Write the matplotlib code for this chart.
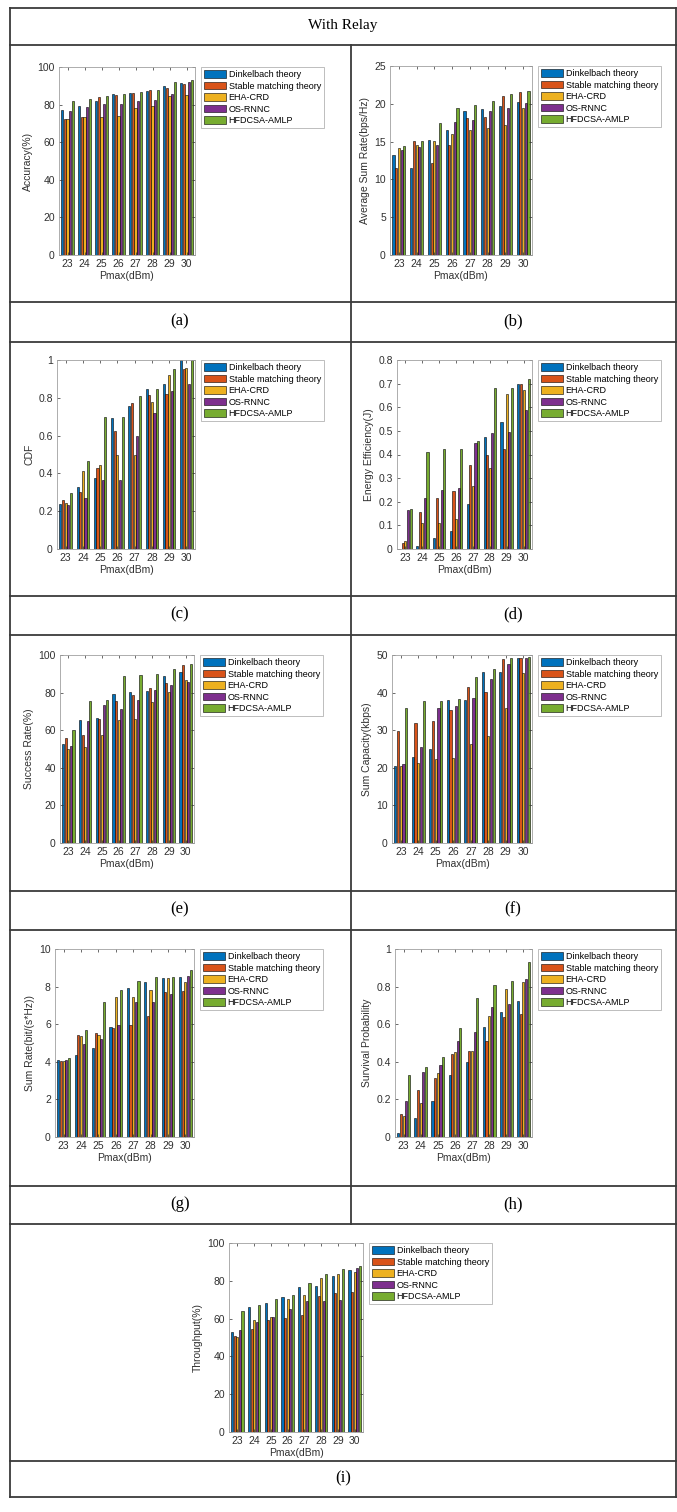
import matplotlib
matplotlib.use("Agg")
import matplotlib.pyplot as plt
from matplotlib.lines import Line2D
from matplotlib.ticker import FormatStrFormatter
import numpy as np

plt.rcParams['font.family'] = ['Liberation Sans', 'DejaVu Sans']

# data
pmax = [23, 24, 25, 26, 27, 28, 29, 30]
methods = ["Dinkelbach theory", "Stable matching theory", "EHA-CRD", "OS-RNNC", "HFDCSA-AMLP"]
colors = ["#0072BD", "#D95319", "#EDB120", "#7E2F8E", "#77AC30"]

accuracy = [
    [77.3, 79.1, 82.1, 85.5, 86.4, 87.1, 89.7, 91.5],
    [72.4, 73.6, 84.1, 85.3, 86.2, 87.6, 89.0, 91.2],
    [72.4, 73.6, 73.6, 74.0, 78.1, 79.5, 84.4, 85.0],
    [76.6, 78.9, 80.2, 80.4, 81.8, 82.5, 85.5, 91.9],
    [82.1, 83.0, 84.8, 85.8, 86.5, 88.0, 91.9, 92.9],
]
sum_rate_avg = [
    [13.2, 11.5, 15.2, 16.5, 19.0, 19.3, 19.7, 20.2],
    [11.5, 15.1, 12.2, 14.6, 18.1, 18.3, 21.0, 21.5],
    [14.2, 14.6, 15.1, 16.0, 16.5, 16.8, 17.2, 19.4],
    [13.9, 14.3, 14.5, 17.6, 17.9, 19.0, 19.5, 20.1],
    [14.4, 15.1, 17.5, 19.5, 19.8, 20.4, 21.3, 21.7],
]
cdf = [
    [0.24, 0.33, 0.375, 0.695, 0.755, 0.845, 0.875, 1.0],
    [0.26, 0.30, 0.428, 0.625, 0.77, 0.815, 0.82, 0.955],
    [0.245, 0.415, 0.445, 0.50, 0.50, 0.78, 0.92, 0.96],
    [0.232, 0.27, 0.365, 0.365, 0.60, 0.72, 0.835, 0.875],
    [0.295, 0.463, 0.697, 0.70, 0.807, 0.845, 0.95, 1.0],
]
energy_eff = [
    [0.0, 0.011, 0.048, 0.076, 0.19, 0.474, 0.538, 0.70],
    [0.026, 0.156, 0.215, 0.246, 0.354, 0.397, 0.422, 0.70],
    [0.035, 0.11, 0.11, 0.127, 0.266, 0.344, 0.655, 0.673],
    [0.167, 0.215, 0.25, 0.26, 0.45, 0.489, 0.496, 0.588],
    [0.171, 0.41, 0.425, 0.425, 0.457, 0.68, 0.68, 0.72],
]
success = [
    [52.9, 65.5, 66.5, 79.0, 80.5, 81.0, 88.8, 91.0],
    [56.1, 57.4, 66.0, 75.3, 78.5, 82.5, 85.2, 94.7],
    [50.2, 50.8, 57.5, 65.5, 66.0, 75.0, 80.5, 86.5],
    [51.6, 65.0, 73.3, 71.2, 76.2, 81.3, 84.3, 85.8],
    [60.0, 75.5, 76.3, 89.0, 89.5, 90.0, 92.3, 95.0],
]
capacity = [
    [20.5, 22.9, 24.9, 38.0, 38.0, 45.4, 45.4, 49.1],
    [29.7, 31.8, 32.5, 35.3, 41.6, 40.2, 49.0, 49.2],
    [20.5, 21.2, 22.3, 22.6, 26.3, 28.4, 35.8, 45.1],
    [20.9, 25.6, 35.8, 36.5, 38.6, 43.5, 47.5, 49.3],
    [35.8, 37.7, 37.8, 38.3, 44.2, 46.3, 49.1, 49.6],
]
sum_rate = [
    [4.12, 4.38, 4.75, 5.85, 7.92, 8.25, 8.48, 8.5],
    [4.04, 5.4, 5.55, 5.8, 5.95, 6.42, 7.72, 7.78],
    [4.06, 5.35, 5.4, 7.45, 7.45, 7.82, 8.48, 8.22],
    [4.08, 4.95, 5.2, 5.98, 7.2, 7.2, 7.6, 8.55],
    [4.2, 5.7, 7.2, 7.82, 8.3, 8.5, 8.5, 8.9],
]
survival = [
    [0.02, 0.10, 0.19, 0.33, 0.40, 0.585, 0.665, 0.725],
    [0.12, 0.25, 0.315, 0.44, 0.46, 0.51, 0.64, 0.655],
    [0.11, 0.18, 0.34, 0.45, 0.46, 0.645, 0.785, 0.825],
    [0.19, 0.345, 0.385, 0.51, 0.56, 0.69, 0.705, 0.84],
    [0.33, 0.37, 0.425, 0.58, 0.74, 0.81, 0.83, 0.93],
]
throughput = [
    [52.9, 66.2, 68.4, 71.5, 76.8, 77.2, 82.5, 85.8],
    [50.8, 54.6, 59.1, 60.2, 61.8, 71.8, 73.6, 74.2],
    [50.2, 59.5, 60.9, 70.2, 72.4, 81.6, 83.4, 84.4],
    [53.8, 58.2, 60.9, 65.1, 69.2, 69.5, 69.7, 86.7],
    [64.0, 67.0, 70.2, 72.4, 79.0, 83.4, 86.1, 87.6],
]

W, H = 677, 1512
fig = plt.figure(figsize=(W / 100, H / 100), dpi=100)


def fx(x):
    return x / W


def fy(y):
    return 1 - y / H


def hline(y, x0=10, x1=676):
    fig.add_artist(Line2D([fx(x0), fx(x1)], [fy(y), fy(y)], color='#3a3a3a', lw=1.3))


def vline(x, y0, y1):
    fig.add_artist(Line2D([fx(x), fx(x)], [fy(y0), fy(y1)], color='#3a3a3a', lw=1.3))


# table frame
for y in [8, 45, 302, 342, 596, 635, 891, 930, 1186, 1224, 1461, 1497]:
    hline(y)
vline(10, 8, 1497)
vline(676, 8, 1497)
vline(351, 45, 1224)

fig.text(fx(343), fy(26), "With Relay", family='Liberation Serif', fontsize=11,
         ha='center', va='center')
serif = dict(family='Liberation Serif', fontsize=12, ha='center', va='center')
fig.text(fx(180), fy(321), "(a)", **serif)
fig.text(fx(513), fy(321), "(b)", **serif)
fig.text(fx(180), fy(614), "(c)", **serif)
fig.text(fx(513), fy(614), "(d)", **serif)
fig.text(fx(180), fy(909), "(e)", **serif)
fig.text(fx(513), fy(909), "(f)", **serif)
fig.text(fx(180), fy(1204), "(g)", **serif)
fig.text(fx(513), fy(1204), "(h)", **serif)
fig.text(fx(343), fy(1478), "(i)", **serif)

panels = [
    ((59, 67, 195, 255), accuracy, "Accuracy(%)", 100, 20),
    ((390, 66, 532, 255), sum_rate_avg, "Average Sum Rate(bps/Hz)", 25, 5),
    ((57, 360, 195, 549), cdf, "CDF", 1, 0.2),
    ((397, 360, 532, 549), energy_eff, "Energy Efficiency(J)", 0.8, 0.1),
    ((60, 655, 194, 843), success, "Success Rate(%)", 100, 20),
    ((392, 655, 532, 843), capacity, "Sum Capacity(kbps)", 50, 10),
    ((55, 949, 194, 1137), sum_rate, "Sum Rate(bit/(s*Hz))", 10, 2),
    ((395, 949, 532, 1137), survival, "Survival Probability", 1, 0.2),
    ((229, 1243, 363, 1432), throughput, "Throughput(%)", 100, 20),
]

x = np.arange(len(pmax))
n = len(methods)
step = min(0.8, n / (n + 1.5)) / n
width = step * 0.8
tick_col = '#303030'

for (l, t, r, b), data, ylabel, ymax, ystep in panels:
    ax = fig.add_axes([fx(l), fy(b), fx(r - l), (b - t) / H])
    for k in range(n):
        ax.bar(x + (k - (n - 1) / 2) * step, data[k], width, color=colors[k],
               edgecolor='black', linewidth=0.4, label=methods[k])
    ax.set_xlim(-0.5, len(pmax) - 0.5)
    ax.set_ylim(0, ymax)
    ax.set_yticks(np.arange(0, ymax + ystep / 2, ystep))
    ax.yaxis.set_major_formatter(FormatStrFormatter('%g'))
    ax.set_xticks(x)
    ax.set_xticklabels([str(p) for p in pmax])
    ax.tick_params(direction='in', length=2.5, width=0.5, labelsize=7.5,
                   colors=tick_col, top=True, right=True, pad=3)
    for s in ax.spines.values():
        s.set_color('#a0a0a0')
        s.set_linewidth(0.6)
    ax.set_xlabel("Pmax(dBm)", fontsize=7.5, color=tick_col, labelpad=1)
    ax.set_ylabel(ylabel, fontsize=7.5, color=tick_col, labelpad=3)
    leg = ax.legend(loc='upper left', bbox_to_anchor=(fx(r + 6), fy(t)),
                    bbox_transform=fig.transFigure, fontsize=6.5, frameon=True,
                    fancybox=False, borderpad=0.35, labelspacing=0.28,
                    handlelength=2.4, handleheight=0.9, handletextpad=0.3,
                    borderaxespad=0)
    leg.get_frame().set_edgecolor('#a0a0a0')
    leg.get_frame().set_linewidth(0.6)

fig.savefig("out.png", dpi=100)
